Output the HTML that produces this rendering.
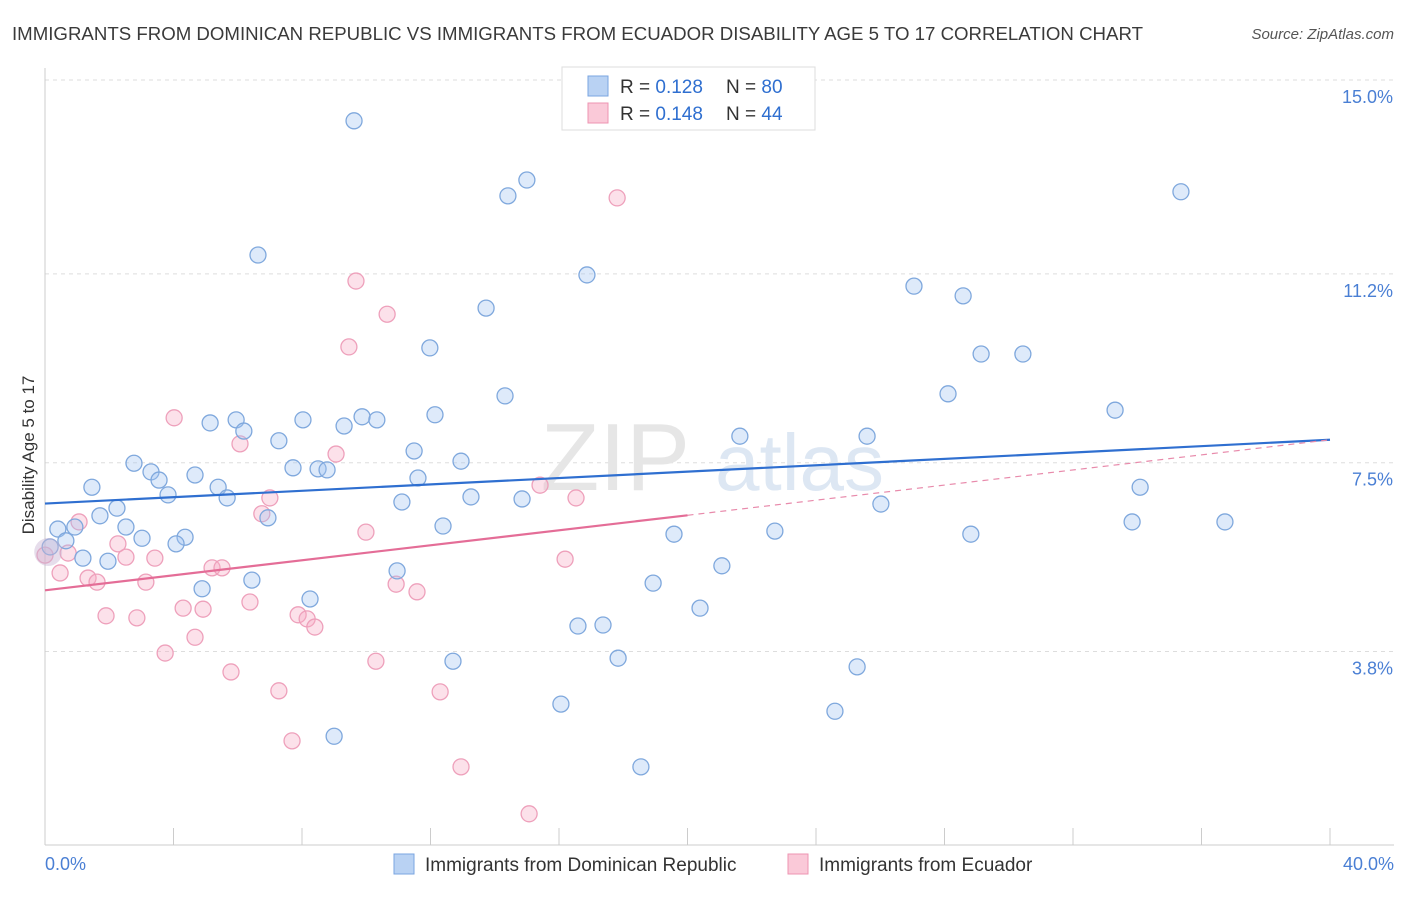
<!DOCTYPE html>
<html><head><meta charset="utf-8"><style>
body{margin:0;background:#fff;font-family:"Liberation Sans",sans-serif}
svg text{font-family:"Liberation Sans",sans-serif}
</style></head><body>
<svg width="1406" height="892">
<text x="12" y="40" font-size="18" fill="#3a3a3a" textLength="1131" lengthAdjust="spacingAndGlyphs">IMMIGRANTS FROM DOMINICAN REPUBLIC VS IMMIGRANTS FROM ECUADOR DISABILITY AGE 5 TO 17 CORRELATION CHART</text>
<text x="1394" y="39" font-size="15" fill="#555" text-anchor="end" font-style="italic">Source: ZipAtlas.com</text>
<g id="grid"></g>
<text x="690" y="490" font-size="96" fill="#e6e6e6" font-family="Liberation Serif" text-anchor="end">ZIP</text>
<text x="715" y="490" font-size="80" fill="#dde7f3">atlas</text>
<g id="marks"></g>
<text transform="translate(34,455) rotate(-90)" font-size="17" fill="#333" text-anchor="middle">Disability Age 5 to 17</text>
<text x="45" y="870" font-size="18" fill="#4a7fd4">0.0%</text>
<text x="1394" y="870" font-size="18" fill="#4a7fd4" text-anchor="end">40.0%</text>
<g>
<rect x="562" y="67" width="253" height="63" fill="#fff" stroke="#ddd"/>
<rect x="588" y="76" width="20" height="20" fill="#b9d2f3" stroke="#7aa5e0"/>
<rect x="588" y="103" width="20" height="20" fill="#fac9d8" stroke="#ee94b2"/>
<text x="620" y="93" font-size="19" fill="#333">R = <tspan fill="#2f6fd0">0.128</tspan></text>
<text x="726" y="93" font-size="19" fill="#333">N = <tspan fill="#2f6fd0">80</tspan></text>
<text x="620" y="120" font-size="19" fill="#333">R = <tspan fill="#2f6fd0">0.148</tspan></text>
<text x="726" y="120" font-size="19" fill="#333">N = <tspan fill="#2f6fd0">44</tspan></text>
</g>
<g>
<rect x="394" y="854" width="20" height="20" fill="#b9d2f3" stroke="#7aa5e0"/>
<text x="425" y="871" font-size="19" fill="#333">Immigrants from Dominican Republic</text>
<rect x="788" y="854" width="20" height="20" fill="#fac9d8" stroke="#ee94b2"/>
<text x="819" y="871" font-size="19" fill="#333">Immigrants from Ecuador</text>
</g>
</svg>
<script>
const yTicks=[15.0,11.2,7.5,3.8];
const yTickLabels=["15.0%","11.2%","7.5%","3.8%"];
const blueX=[9.62,15.0,14.41,35.36,6.63,16.87,27.05,28.58,13.73,11.98,29.14,30.44,28.11,14.32,33.31,12.14,5.14,5.95,6.19,8.03,9.87,10.33,9.31,7.28,21.63,25.59,11.49,12.95,2.77,3.3,3.55,4.67,7.72,8.5,8.78,11.61,1.46,3.83,5.39,5.67,13.26,14.85,11.11,26.02,34.09,2.24,1.71,6.94,2.52,12.39,33.84,36.73,0.4,0.93,0.65,3.02,4.36,4.08,19.58,22.72,28.82,1.18,1.96,0.16,10.96,21.07,6.44,18.93,4.89,8.25,20.39,16.59,17.37,17.84,12.7,25.28,16.06,24.59,9.0,18.55];
const blueY=[14.2,13.04,12.73,12.81,11.57,11.18,10.96,10.77,10.53,9.75,9.63,9.63,8.85,8.81,8.53,8.44,8.28,8.34,8.12,8.34,8.4,8.34,8.22,7.93,8.02,8.02,7.73,7.53,7.49,7.32,7.16,7.26,7.4,7.38,7.36,7.2,7.02,6.87,7.02,6.81,6.83,6.79,6.73,6.69,7.02,6.61,6.46,6.42,6.24,6.26,6.34,6.34,6.2,6.24,5.97,6.02,6.04,5.91,6.1,6.16,6.1,5.63,5.57,5.85,5.38,5.48,5.2,5.14,5.03,4.83,4.65,4.3,4.32,3.67,3.61,3.5,2.77,2.63,2.14,1.54];
const pinkX=[17.81,9.68,10.65,9.46,4.02,6.07,9.06,15.41,16.53,7.0,6.75,1.06,9.99,2.27,2.52,3.42,16.19,0.47,0.0,0.72,1.34,1.62,3.14,5.2,5.51,10.93,11.58,6.38,4.3,4.92,1.9,2.86,7.88,8.16,8.4,4.67,3.74,10.3,5.79,7.28,12.3,7.69,12.95,15.07];
const pinkY=[12.69,11.06,10.41,9.77,8.38,7.87,7.67,7.06,6.81,6.81,6.5,6.34,6.14,5.91,5.65,5.63,5.61,5.34,5.69,5.73,5.24,5.16,5.16,5.44,5.44,5.12,4.97,4.77,4.65,4.63,4.5,4.46,4.52,4.44,4.28,4.08,3.77,3.61,3.4,3.03,3.01,2.05,1.54,0.62];
const ns="http://www.w3.org/2000/svg";
const X=v=>45+v*32.125, Y=v=>80+(15-v)*51.03;
const grid=document.getElementById('grid'), marks=document.getElementById('marks');
function mk(t,a,p){const e=document.createElementNS(ns,t);for(const k in a)e.setAttribute(k,a[k]);p.appendChild(e);return e;}
yTicks.forEach((t,i)=>{
 const l=mk('line',{x1:45,x2:1394,y1:Y(t),y2:Y(t),stroke:'#ddd','stroke-dasharray':'4,4'},grid);
 
 
 const tx=mk('text',{x:1393,y:Y(t)+23,'font-size':18,fill:'#4a7fd4','text-anchor':'end'},grid);
 tx.textContent=yTickLabels[i];
 
 
});
const ax=mk('line',{x1:45,x2:1394,y1:845,y2:845,stroke:'#ccc'},grid);


const ay=mk('line',{x1:45,x2:45,y1:68,y2:845,stroke:'#ccc'},grid);


for(let i=0;i<=10;i++){const t=mk('line',{x1:X(i*4),x2:X(i*4),y1:828,y2:845,stroke:'#ccc'},grid);
 
 }
pinkX.forEach((v,i)=>{const c=mk('circle',{cx:X(v),cy:Y(pinkY[i]),r:8,fill:'rgba(245,170,195,0.35)',stroke:'#eea0bb','stroke-width':1.3},marks);
 
 });
blueX.forEach((v,i)=>{const c=mk('circle',{cx:X(v),cy:Y(blueY[i]),r:8,fill:'rgba(160,195,240,0.35)',stroke:'#7fa8dd','stroke-width':1.3},marks);
 
 });
const big=mk('circle',{cx:X(0.1),cy:Y(5.75),r:14,fill:'rgba(200,180,210,0.45)',stroke:'none'},marks);


const bl=mk('line',{x1:X(0),y1:Y(6.7),x2:X(40),y2:Y(7.95),stroke:'#2f6fd0','stroke-width':2.2},marks);


const pl=mk('line',{x1:X(0),y1:Y(5.0),x2:X(20),y2:Y(6.47),stroke:'#e46d97','stroke-width':2.2},marks);


const pd=mk('line',{x1:X(20),y1:Y(6.47),x2:X(40),y2:Y(7.95),stroke:'#e88aab','stroke-width':1.2,'stroke-dasharray':'6,5'},marks);


</script>
</body></html>
